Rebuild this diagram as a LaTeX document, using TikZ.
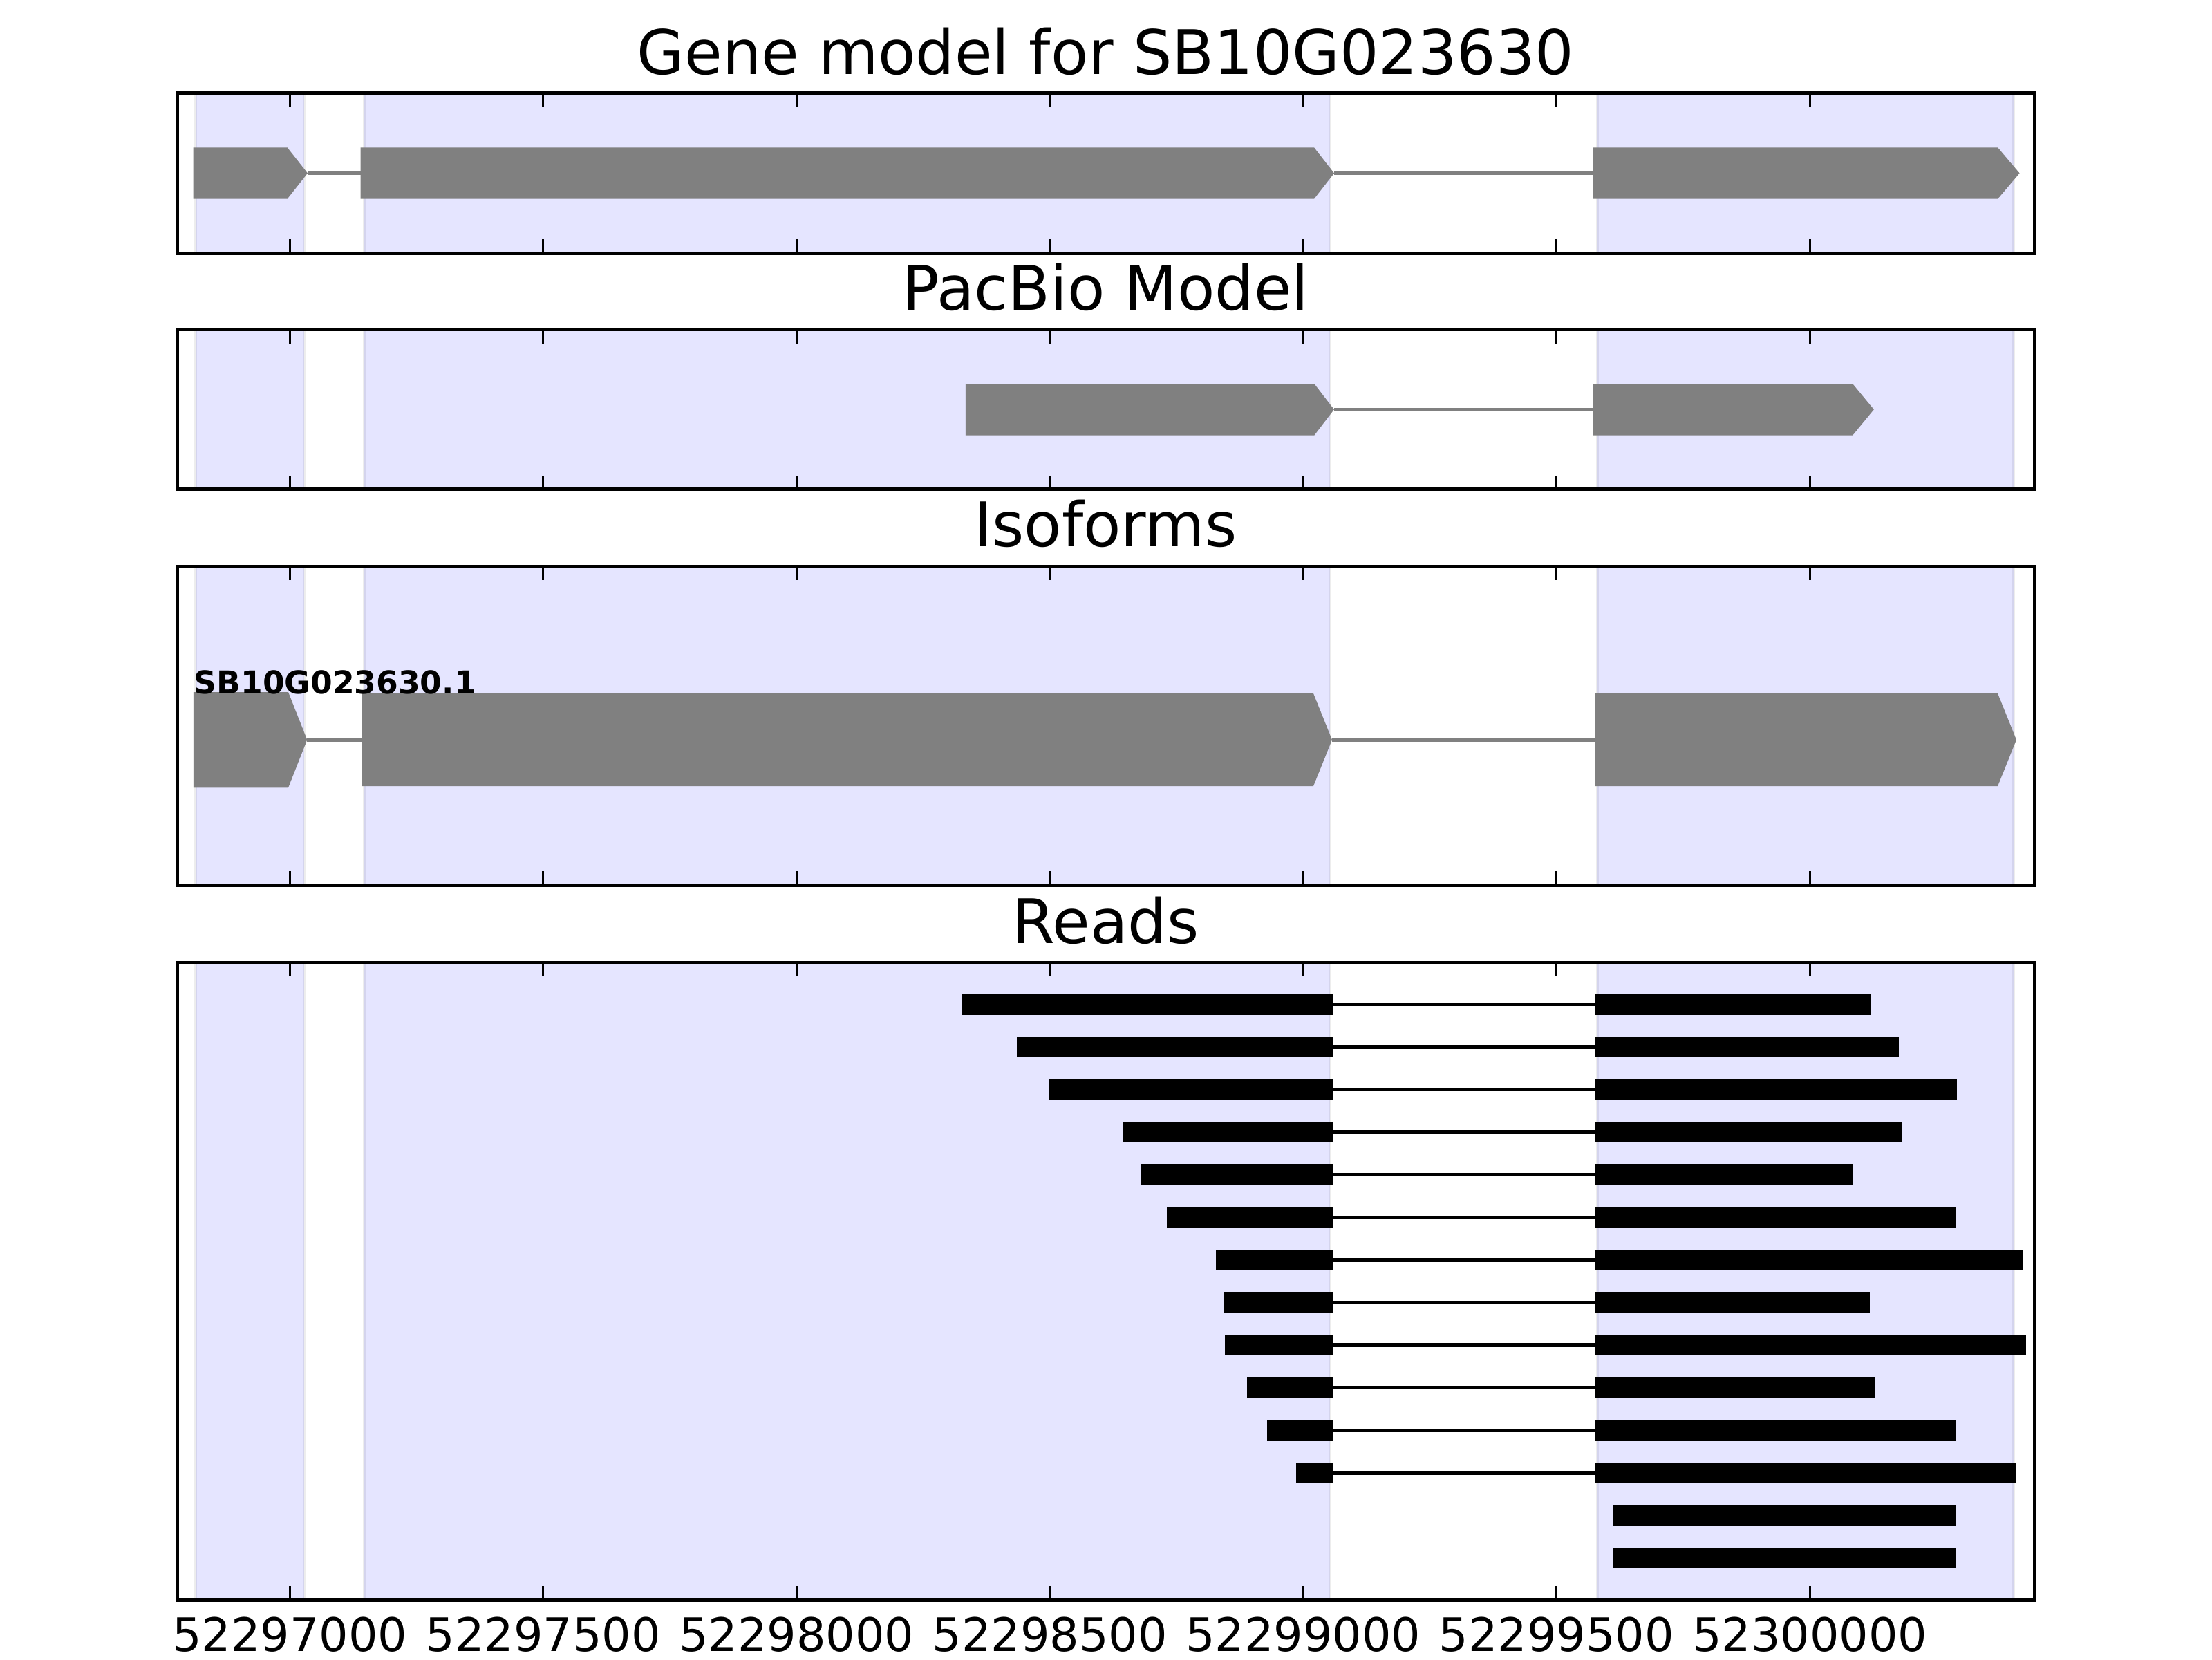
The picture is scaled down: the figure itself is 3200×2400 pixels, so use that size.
\documentclass[tikz,border=0pt]{standalone}
\usepackage{fontspec}
\setmainfont{DejaVu Sans}
\begin{document}
\begin{tikzpicture}[x=0.25pt,y=-0.25pt,
  frame/.style={draw=black,line width=1.25pt},
  tickmark/.style={draw=black,line width=0.7pt},
  shadebox/.style={fill=blue!10,draw=black,draw opacity=0.07,line width=1pt},
  exon/.style={fill=gray,draw=none},
  intron/.style={draw=gray,line width=1.25pt},
  readbar/.style={fill=black,draw=none},
  readline/.style={draw=black,line width=1.1pt},
  paneltitle/.style={inner sep=0pt,anchor=base,font=\fontsize{22.2pt}{26pt}\selectfont},
  ticklabel/.style={inner sep=0pt,anchor=base,font=\fontsize{16.7pt}{20pt}\selectfont},
  isolabel/.style={inner sep=0pt,anchor=base west,font=\bfseries\fontsize{11.4pt}{13pt}\selectfont}]
\useasboundingbox (0,0) rectangle (3200,2400);
\fill[white] (0,0) rectangle (3200,2400);

% ---------- shading of exon regions in every panel ----------
\foreach \t/\b in {134.7/366, 476.8/707.5, 819/1280, 1392.2/2314.2}{
  \foreach \a/\c in {283.3/440, 526.7/1924, 2310.8/2913}{
    \path[shadebox] (\a,\t) rectangle (\c,\b);
  }
}

% ---------- panel 1: gene model ----------
\path[intron] (445,250.5) -- (521.6,250.5);
\path[intron] (1930,250.5) -- (2305,250.5);
\path[exon] (279.7,213.3) -- (415.6,213.3) -- (445,250.5) -- (415.6,287.7) -- (279.7,287.7) -- cycle;
\path[exon] (521.6,213.3) -- (1901,213.3) -- (1930,250.5) -- (1901,287.7) -- (521.6,287.7) -- cycle;
\path[exon] (2305,213.3) -- (2890,213.3) -- (2921.6,250.5) -- (2890,287.7) -- (2305,287.7) -- cycle;

% ---------- panel 2: PacBio model ----------
\path[intron] (1929.9,592.3) -- (2305,592.3);
\path[exon] (1396.9,555) -- (1901.2,555) -- (1929.9,592.3) -- (1901.2,629.7) -- (1396.9,629.7) -- cycle;
\path[exon] (2305,555) -- (2680,555) -- (2710.8,592.3) -- (2680,629.7) -- (2305,629.7) -- cycle;

% ---------- panel 3: isoforms ----------
\path[intron] (444.3,1070) -- (524,1070);
\path[intron] (1927,1070) -- (2308,1070);
\path[exon] (279.8,1001) -- (417,1001) -- (444.3,1070) -- (417,1139.3) -- (279.8,1139.3) -- cycle;
\path[exon] (524,1003) -- (1900,1003) -- (1927,1070) -- (1900,1137) -- (524,1137) -- cycle;
\path[exon] (2308,1003) -- (2890,1003) -- (2917,1070) -- (2890,1137) -- (2308,1137) -- cycle;
\node[isolabel] (iso) at (280,1003) {SB10G023630.1};

% ---------- panel 4: reads ----------
\foreach \l/\r [count=\i] in {1391.5/2706, 1470.5/2747, 1518.3/2831, 1624/2751,
   1651.3/2680, 1687.5/2830, 1759/2926, 1769.5/2705, 1771.5/2931, 1804/2712,
   1833/2830, 1875/2917}{
  \pgfmathsetmacro\yc{1452.8+61.6*(\i-1)}
  \path[readline] (1928.5,\yc) -- (2308,\yc);
  \path[readbar] (\l,{\yc-14.75}) rectangle (1928.5,{\yc+14.75});
  \path[readbar] (2308,{\yc-14.75}) rectangle (\r,{\yc+14.75});
}
\foreach \i in {13,14}{
  \pgfmathsetmacro\yc{1452.8+61.6*(\i-1)}
  \path[readbar] (2333,{\yc-14.75}) rectangle (2830,{\yc+14.75});
}

% ---------- ticks and frames ----------
\foreach \t/\b in {134.7/366, 476.8/707.5, 819/1280, 1392.2/2314.2}{
  \foreach \k in {0,...,6}{
    \pgfmathsetmacro\tx{419.2+366.5*\k}
    \path[tickmark] (\tx,\t) -- (\tx,{\t+20});
    \path[tickmark] (\tx,\b) -- (\tx,{\b-20});
  }
  \path[frame] (256,\t) rectangle (2943,\b);
}

% ---------- titles ----------
\node[paneltitle] (t1) at (1599.5,107.8) {Gene model for SB10G023630};
\node[paneltitle] (t2) at (1599.5,448.6) {PacBio Model};
\node[paneltitle] (t3) at (1599.5,790.4) {Isoforms};
\node[paneltitle] (t4) at (1599.5,1364) {Reads};

% ---------- tick labels ----------
\foreach \lab [count=\k from 0] in {52297000,52297500,52298000,52298500,52299000,52299500,52300000}{
  \pgfmathsetmacro\tx{419.2+366.5*\k}
  \node[ticklabel] (lab\k) at (\tx,2388.3) {\lab};
}
\end{tikzpicture}
\end{document}
